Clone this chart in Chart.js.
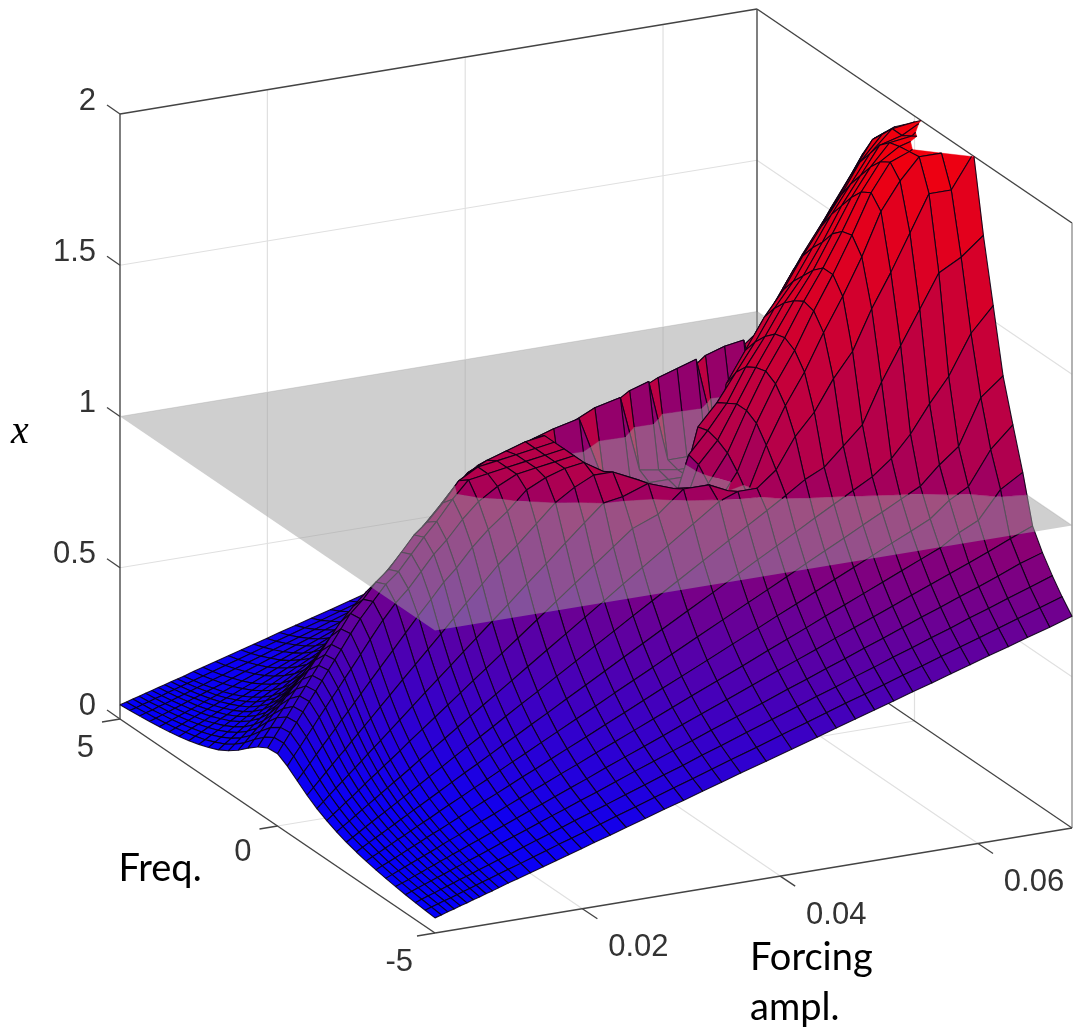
<!DOCTYPE html>
<html><head><meta charset="utf-8">
<style>html,body{margin:0;padding:0;background:#fff}canvas{display:block}</style>
<script src="https://cdn.jsdelivr.net/npm/chart.js@4"></script>
</head><body><canvas id="c" width="1077" height="1031"></canvas>
<script>
const amps=[.0051,.005744,.006388,.007032,.007676,.00832,.008964,.009608,.010252,.010896,.01154,.012506,.013472,.01476,.016048,.017336,.018624,.019912,.0212,.02281,.02442,.026352,.028284,.030216,.032148,.03408,.036012,.038588,.041164,.04374,.045672,.047604,.049536,.051468,.0534,.055332,.057264,.059196,.061128,.06306,.064992,.067246,.0695];
const freqs=[5,4.6875,4.375,4.0625,3.75,3.4375,3.125,2.8125,2.5,2.1875,1.875,1.5625,1.25,.9375,.625,.3125,0,-.3125,-.625,-.9375,-1.25,-1.5625,-1.875,-2.1875,-2.5,-2.8125,-3.125,-3.4375,-3.75,-4.0625,-4.375,-4.6875,-5];
const x00=[.047,.050,.054,.058,.063,.068,.075,.083,.093,.105,.119,.138,.162,.191,.217,.236,.239,.220,.194,.168,.146,.128,.113,.101,.091,.083,.076,.070,.065,.060,.056,.053,.050];
const x01=[.053,.056,.061,.065,.071,.077,.085,.094,.105,.119,.135,.156,.183,.216,.246,.267,.270,.249,.219,.190,.165,.145,.128,.114,.103,.094,.086,.079,.073,.068,.064,.060,.056];
const x02=[.059,.063,.067,.073,.079,.086,.095,.105,.117,.132,.150,.174,.204,.240,.274,.297,.301,.277,.244,.212,.184,.161,.142,.127,.115,.104,.095,.088,.081,.076,.071,.067,.063];
const x03=[.065,.069,.075,.080,.087,.095,.105,.116,.129,.146,.166,.192,.225,.266,.303,.328,.332,.306,.270,.234,.203,.178,.157,.141,.127,.115,.105,.097,.090,.084,.078,.074,.069];
const x04=[.071,.076,.081,.088,.095,.104,.114,.127,.141,.159,.181,.210,.246,.290,.330,.359,.363,.334,.295,.256,.222,.194,.172,.154,.138,.126,.115,.106,.098,.092,.086,.080,.076];
const x05=[.077,.082,.088,.095,.103,.113,.124,.138,.153,.173,.197,.228,.267,.315,.359,.390,.394,.364,.320,.278,.241,.211,.187,.167,.150,.137,.125,.115,.107,.100,.093,.087,.082];
const x06=[.083,.089,.095,.103,.111,.122,.134,.148,.165,.186,.212,.245,.288,.340,.387,.420,.425,.392,.345,.299,.260,.228,.201,.180,.162,.147,.135,.124,.115,.107,.100,.094,.089];
const x07=[.089,.095,.102,.111,.120,.131,.144,.159,.177,.200,.228,.264,.309,.365,.416,.451,.456,.421,.371,.322,.279,.245,.216,.193,.174,.158,.145,.133,.124,.115,.108,.101,.095];
const x08=[.095,.102,.109,.118,.128,.140,.154,.170,.189,.214,.243,.281,.330,.390,.444,.481,.487,.449,.395,.343,.298,.261,.231,.206,.186,.169,.155,.142,.132,.123,.115,.108,.102];
const x09=[.101,.108,.116,.126,.136,.149,.164,.181,.202,.228,.259,.300,.351,.415,.472,.513,.518,.478,.421,.365,.317,.278,.246,.219,.198,.180,.165,.152,.141,.131,.122,.115,.108];
const x10=[.107,.115,.123,.133,.144,.157,.173,.192,.214,.241,.275,.317,.372,.439,.500,.543,.549,.506,.446,.387,.336,.294,.260,.232,.209,.190,.174,.161,.149,.139,.130,.122,.115];
const x11=[.117,.124,.134,.144,.156,.171,.188,.208,.232,.261,.298,.344,.404,.477,.543,.589,.596,.549,.484,.420,.365,.319,.282,.252,.227,.207,.189,.174,.162,.150,.141,.132,.125];
const x12=[.126,.134,.144,.156,.169,.184,.203,.224,.250,.282,.321,.371,.436,.514,.585,.635,.640,.593,.522,.453,.393,.345,.305,.272,.245,.223,.204,.188,.174,.162,.152,.143,.134];
const x13=[.138,.147,.158,.171,.185,.202,.222,.246,.274,.309,.352,.407,.478,.560,.630,.675,.690,.650,.572,.497,.432,.378,.334,.298,.269,.244,.224,.206,.191,.178,.166,.156,.147];
const x14=[.150,.160,.172,.186,.201,.220,.242,.268,.298,.337,.383,.443,.520,.605,.670,.725,.740,.700,.623,.541,.470,.411,.363,.325,.293,.266,.244,.224,.208,.194,.181,.170,.160];
const x15=[.162,.173,.186,.201,.217,.238,.262,.289,.322,.364,.414,.479,.560,.640,.700,.760,.775,.740,.673,.584,.508,.444,.393,.351,.316,.287,.263,.243,.225,.209,.196,.184,.173];
const x16=[.174,.186,.200,.216,.234,.255,.281,.311,.347,.391,.446,.515,.600,.680,.745,.810,.825,.790,.720,.628,.546,.478,.422,.377,.340,.309,.283,.261,.242,.225,.210,.198,.186];
const x17=[.186,.199,.214,.231,.250,.273,.301,.333,.371,.418,.477,.551,.640,.725,.790,.860,.875,.840,.770,.672,.584,.511,.452,.403,.364,.331,.303,.279,.258,.241,.225,.211,.199];
const x18=[.199,.212,.228,.246,.266,.291,.320,.354,.395,.446,.508,.587,.680,.770,.835,.895,.920,.880,.810,.716,.622,.544,.481,.430,.387,.352,.322,.297,.275,.256,.240,.225,.212];
const x19=[.214,.228,.245,.265,.287,.313,.345,.381,.425,.480,.546,.631,.730,.830,.890,.950,.985,.940,.870,.770,.669,.586,.518,.463,.417,.379,.347,.320,.296,.276,.258,.242,.228];
const x20=[.229,.244,.263,.283,.307,.335,.369,.408,.455,.514,.585,.676,.780,.885,.950,1.015,1.04,.99,.92,.825,.716,.627,.555,.495,.446,.406,.372,.342,.317,.295,.276,.260,.245];
const x21=[.247,.264,.284,.306,.331,.362,.399,.441,.491,.555,.632,.73,.87,.95,1.01,1.05,1.05,1.03,.97,.88,.774,.677,.599,.535,.482,.438,.401,.370,.343,.319,.298,.280,.264];
const x22=[.265,.283,.304,.329,.356,.389,.428,.473,.527,.595,.678,.784,.91,1.00,1.04,1.06,1.06,1.06,1.03,.94,.830,.727,.643,.574,.517,.470,.431,.397,.368,.343,.320,.301,.284];
const x23=[.284,.303,.325,.351,.380,.416,.458,.506,.564,.636,.725,.838,.96,1.02,1.06,1.07,1.07,1.07,1.06,1.00,.888,.777,.687,.614,.553,.503,.460,.424,.393,.366,.343,.322,.303];
const x24=[.302,.322,.346,.374,.405,.442,.487,.538,.600,.677,.771,.89,1.00,1.04,1.08,1.08,1.08,1.08,1.08,1.04,.945,.827,.731,.653,.589,.535,.490,.451,.418,.390,.364,.342,.323];
const x25=[.320,.342,.367,.396,.429,.469,.516,.571,.636,.718,.818,.945,1.02,1.06,1.09,1.09,1.09,1.09,1.09,1.07,1.00,.877,.776,.693,.624,.567,.520,.479,.444,.413,.387,.363,.342];
const x26=[.338,.361,.388,.419,.453,.496,.546,.603,.672,.759,.865,.98,1.04,1.08,.87,.85,.85,.87,1.05,1.07,1.01,.927,.820,.732,.660,.600,.549,.506,.469,.437,.408,.384,.362];
const x27=[.362,.387,.416,.449,.486,.531,.585,.647,.721,.813,.93,1.00,1.06,1.10,.86,.84,.84,.85,.87,1.03,1.04,.96,.878,.784,.707,.643,.588,.542,.502,.468,.438,.411,.387];
const x28=[.387,.413,.444,.479,.518,.567,.624,.690,.769,.868,.97,1.05,1.10,.87,.85,.84,.84,.85,.86,.90,1.01,1.03,.937,.837,.754,.686,.628,.578,.536,.499,.467,.439,.413];
const x29=[.411,.439,.472,.509,.551,.602,.663,.733,.817,.92,1.02,1.07,1.12,.87,.85,.84,.84,.84,.85,.88,1.00,1.03,.996,.890,.802,.729,.667,.615,.570,.531,.496,.466,.439];
const x30=[.429,.459,.493,.532,.576,.629,.693,.766,.854,.96,1.05,1.11,.87,.85,.84,.84,.86,1.03,1.02,.98,.94,1.00,1.02,.929,.838,.761,.697,.642,.595,.554,.519,.487,.459];
const x31=[.447,.478,.513,.554,.600,.656,.722,.798,.890,1.00,1.08,1.13,.86,.85,.84,.85,1.09,1.10,1.09,1.07,1.03,.98,1.02,.968,.873,.793,.726,.669,.620,.578,.540,.508,.478];
const x32=[.466,.497,.535,.577,.624,.683,.751,.831,.926,1.02,1.11,.86,.85,.85,.85,.86,1.16,1.18,1.20,1.20,1.18,1.13,1.07,1.008,.909,.826,.756,.697,.646,.601,.563,.528,.498];
const x33=[.484,.517,.555,.599,.649,.709,.781,.863,.962,1.06,1.13,.86,.85,.85,.86,1.19,1.25,1.29,1.31,1.32,1.30,1.25,1.17,1.05,.945,.858,.786,.724,.671,.625,.584,.549,.517];
const x34=[.502,.536,.576,.622,.673,.736,.810,.896,1.0,1.08,1.15,.87,.86,.86,.87,1.29,1.34,1.38,1.41,1.42,1.40,1.35,1.24,1.08,.98,.890,.815,.751,.696,.648,.607,.570,.537];
const x35=[.520,.556,.597,.644,.698,.763,.840,.928,1.03,1.13,.88,.87,.87,.88,1.31,1.39,1.44,1.48,1.51,1.53,1.52,1.47,1.34,1.14,1.015,.923,.845,.778,.721,.672,.628,.590,.556];
const x36=[.539,.575,.618,.667,.722,.789,.869,.961,1.06,1.15,.89,.88,.88,.89,1.40,1.47,1.52,1.56,1.60,1.63,1.63,1.58,1.42,1.20,1.05,.955,.875,.806,.747,.696,.651,.611,.576];
const x37=[.557,.595,.639,.690,.746,.816,.898,.993,1.09,1.16,.90,.89,.90,1.42,1.50,1.57,1.62,1.66,1.71,1.74,1.75,1.70,1.55,1.33,1.10,.988,.904,.833,.772,.719,.672,.632,.595];
const x38=[.575,.614,.660,.712,.771,.843,.928,1.026,1.14,.92,.91,.91,.92,1.52,1.58,1.66,1.72,1.77,1.82,1.86,1.88,1.84,1.66,1.44,1.17,1.02,.934,.86,.797,.743,.695,.652,.615];
const x39=[.593,.634,.681,.735,.795,.869,.957,1.06,1.15,.93,.92,.93,1.53,1.61,1.68,1.75,1.81,1.86,1.91,1.95,1.97,1.93,1.78,1.55,1.26,1.08,.985,.90,.822,.766,.716,.673,.634];
const x40=[.611,.653,.702,.757,.820,.896,.987,1.09,1.16,.93,.92,.93,1.63,1.70,1.78,1.85,1.90,1.95,1.98,1.99,1.995,2.00,1.90,1.66,1.34,1.13,1.02,.93,.848,.79,.739,.694,.654];
const x41=[.633,.676,.726,.784,.848,.927,1.02,1.13,1.17,.94,.93,.94,1.74,1.82,1.89,1.93,1.97,1.97,1.99,2.01,2.03,2.00,1.90,1.70,1.47,1.28,1.13,1.02,.88,.82,.764,.718,.676];
const x42=[.654,.698,.75,.81,.877,.958,1.055,1.166,.96,.95,.95,.96,1.84,1.88,1.92,1.95,1.98,2.01,2.05,2.09,2.10,2.07,2.01,1.76,1.55,1.34,1.20,1.065,.91,.844,.79,.742,.70];
const surfaceRows=[x00,x01,x02,x03,x04,x05,x06,x07,x08,x09,x10,x11,x12,x13,x14,x15,x16,x17,x18,x19,x20,x21,x22,x23,x24,x25,x26,x27,x28,x29,x30,x31,x32,x33,x34,x35,x36,x37,x38,x39,x40,x41,x42];
const ampTicks=[.02,.04,.06], ampTickLabels=['0.02','0.04','0.06'];
const freqTicks=[5,0,-5], freqTickLabels=['5','0','-5'];
const xTicks=[0,.5,1,1.5,2], xTickLabels=['0','0.5','1','1.5','2'];
const planeLevel=1;
const ampLim=[.0051,.0695], freqLim=[-5,5], xLim=[0,2];

// oblique projection of the 3-D box onto the chart's two scales
function P(a,f,z){
  const u=(a-ampLim[0])/(ampLim[1]-ampLim[0]), v=(freqLim[1]-f)/(freqLim[1]-freqLim[0]);
  return {x:120+637*u+315*v, y:719-105*u+214*v-302.5*z};
}
const stops=[[0,0],[.2,.06],[.7,.46],[1.05,.71],[1.5,.85],[2,.95]];
function colour(z){
  let t=.95;
  for(let i=1;i<stops.length;i++){ if(z<=stops[i][0]){const s=stops[i-1],e=stops[i];t=s[1]+(e[1]-s[1])*(z-s[0])/(e[0]-s[0]);break;} }
  return `rgb(${Math.round(255*t)},0,${Math.round(255*(1-t))})`;
}
function clipPoly(poly,keep,level){
  const out=[];
  for(let i=0;i<poly.length;i++){
    const a=poly[i],b=poly[(i+1)%poly.length],ia=keep(a.z),ib=keep(b.z);
    const cross=()=>{const t=(level-a.z)/(b.z-a.z);return {a:a.a+(b.a-a.a)*t,f:a.f+(b.f-a.f)*t,z:level};};
    if(ia){out.push({...a}); if(!ib){const c=cross();c.e=false;out.push(c);}}
    else if(ib){const c=cross();c.e=a.e;out.push(c);}
  }
  return out;
}
const EDGE='rgba(10,0,20,.9)';
function addPoly(list,poly,col){
  if(poly.length<3)return;
  const pts=poly.map(p=>P(p.a,p.f,p.z));
  if(poly.every(p=>p.e)){
    list.push({data:[...pts,pts[0]],fill:'shape',backgroundColor:col,borderColor:EDGE,borderWidth:1.1});
  }else{
    list.push({data:pts,fill:'shape',backgroundColor:col,borderColor:col,borderWidth:.4});
    const line=[];
    poly.forEach((p,i)=>{ if(p.e){line.push(pts[i],pts[(i+1)%pts.length],{x:NaN,y:NaN});} });
    if(line.length)list.push({data:line,fill:false,borderColor:EDGE,borderWidth:1.1});
  }
}
const belowCells=[],aboveCells=[];
for(let i=amps.length-2;i>=0;i--){
  for(let j=0;j<freqs.length-1;j++){
    const col=colour(surfaceRows[i][j+1]);
    const q=[[i,j],[i+1,j],[i+1,j+1],[i,j+1]].map(([r,c])=>({a:amps[r],f:freqs[c],z:surfaceRows[r][c],e:true}));
    const cut=clipPoly(q,z=>z<=xLim[1],xLim[1]);
    if(cut.length<3)continue;
    addPoly(belowCells,clipPoly(cut,z=>z<=planeLevel,planeLevel),col);
    addPoly(aboveCells,clipPoly(cut,z=>z>=planeLevel,planeLevel),col);
  }
}
const seg=(a,b,c,w)=>({data:[a,b],fill:false,borderColor:c,borderWidth:w});
const GRID='#e0e0e0',AX='#555555';
const chrome=[];
const A0=ampLim[0],A1=ampLim[1],F0=freqLim[0],F1=freqLim[1];
for(const a of ampTicks){
  chrome.push(seg(P(a,F1,0),P(a,F1,2),GRID,1.2), seg(P(a,F1,0),P(a,F0,0),GRID,1.2));
}
for(const z of xTicks.slice(1,-1)){
  chrome.push(seg(P(A0,F1,z),P(A1,F1,z),GRID,1.2), seg(P(A1,F1,z),P(A1,F0,z),GRID,1.2));
}
chrome.push(seg(P(A0,0,0),P(A1,0,0),GRID,1.2), seg(P(A1,0,0),P(A1,0,2),GRID,1.2));
chrome.push(seg(P(A0,F1,0),P(A0,F1,2),AX,1.5), seg(P(A0,F1,2),P(A1,F1,2),'#444',1.5), seg(P(A1,F1,0),P(A1,F1,2),AX,1.5),
  seg(P(A1,F1,2),P(A1,F0,2),'#444',1.5), seg(P(A1,F0,0),P(A1,F0,2),'#999',1.5), seg(P(A1,F1,0),P(A1,F0,0),'#444',1.3),
  seg(P(A0,F1,0),P(A0,F0,0),'#444',1.5), seg(P(A0,F0,0),P(A1,F0,0),'#444',1.5));
const shift=(p,dx,dy)=>({x:p.x+dx,y:p.y+dy});
for(const a of ampTicks){const p=P(a,F0,0);chrome.push(seg(p,shift(p,15,10),'#444',1.3));}
for(const f of freqTicks){const p=P(A0,f,0);chrome.push(seg(p,shift(p,-18,3),'#444',1.3));}
for(const z of xTicks){const p=P(A0,F1,z);chrome.push(seg(p,shift(p,-13,-9),'#444',1.3));}
const planeSet={data:[P(A0,F1,planeLevel),P(A1,F1,planeLevel),P(A1,F0,planeLevel),P(A0,F0,planeLevel)],fill:'shape',backgroundColor:'rgba(160,160,160,.5)',borderWidth:0,borderColor:'rgba(0,0,0,0)'};
const paintOrder=[...chrome,...belowCells,planeSet,...aboveCells];
const datasets=paintOrder.reverse().map(d=>({...d,showLine:true,pointRadius:0,pointHoverRadius:0,tension:0,clip:false,spanGaps:false,borderJoinStyle:'round'}));

const labelPlugin={id:'labels',afterDraw(ch){
  const {ctx,scales:{x,y}}=ch; ctx.save();
  const put=(t,px,py,font,col,al)=>{ctx.font=font;ctx.fillStyle=col;ctx.textAlign=al;ctx.textBaseline='middle';ctx.fillText(t,x.getPixelForValue(px),y.getPixelForValue(py));};
  const TF='31px "Liberation Sans"',TC='#333333';
  xTicks.forEach((z,i)=>{const p=P(A0,F1,z);put(xTickLabels[i],p.x-24,p.y-13,TF,TC,'right');});
  freqTicks.forEach((f,i)=>{const p=P(A0,f,0);put(freqTickLabels[i],p.x-(i==0?26:i==1?26:22),p.y+(i==0?29:i==1?26:29),TF,TC,'right');});
  ampTicks.forEach((a,i)=>{const p=P(a,F0,0);put(ampTickLabels[i],p.x+56,p.y+39,TF,TC,'center');});
  put('Freq.',160,869,'38px Lato','#000','center');
  put('Forcing',750,958,'38px Lato','#000','left');
  put('ampl.',750,1008,'38px Lato','#000','left');
  put('x',20,432,'italic 40px "Liberation Serif"','#000','center');
  ctx.restore();
}};
new Chart(document.getElementById('c'),{
  type:'scatter',
  data:{datasets},
  options:{responsive:false,animation:false,events:[],layout:{padding:0},
    plugins:{legend:{display:false},tooltip:{enabled:false},title:{display:false}},
    scales:{x:{type:'linear',min:0,max:1077,display:false},y:{type:'linear',min:0,max:1031,reverse:true,display:false}}},
  plugins:[labelPlugin]
});
</script></body></html>
